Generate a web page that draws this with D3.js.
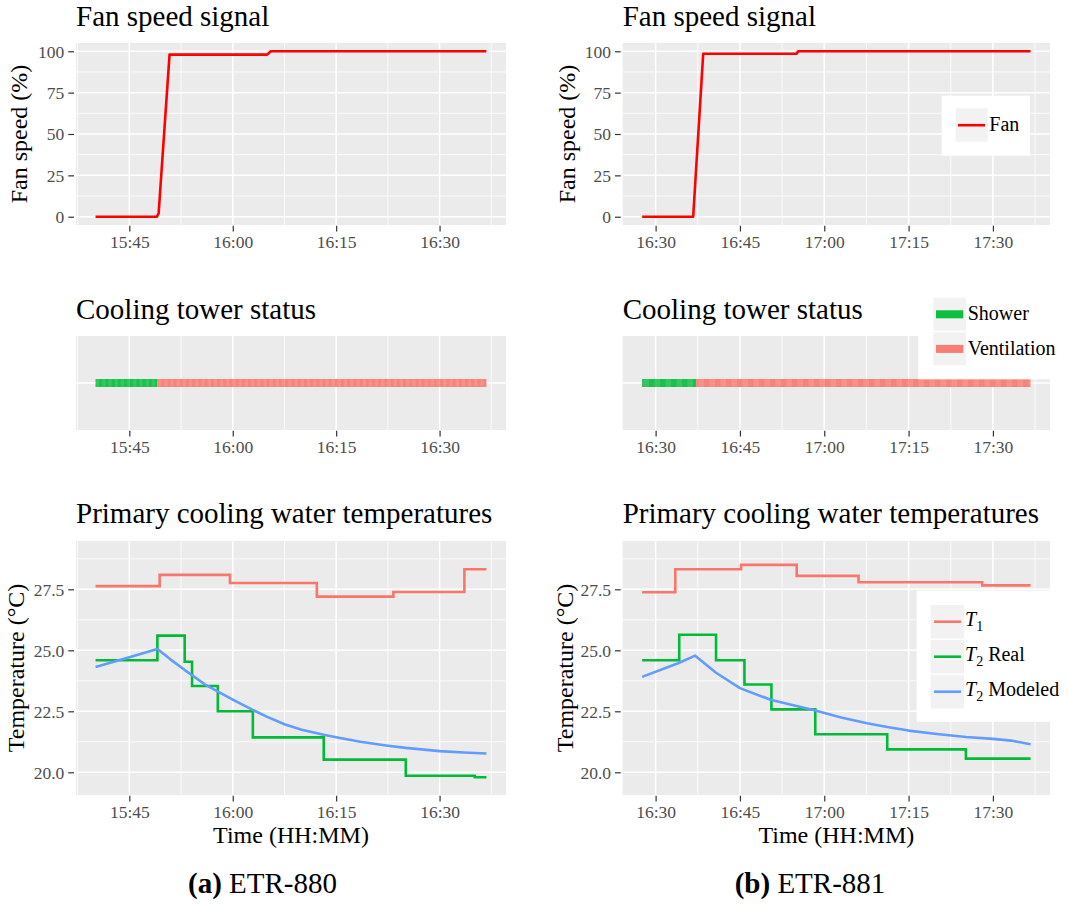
<!DOCTYPE html>
<html><head><meta charset="utf-8">
<script src="https://cdn.jsdelivr.net/npm/d3@7"></script>
<style>
body{margin:0;background:#fff}
svg{display:block}
svg text{font-family:'Liberation Serif','DejaVu Serif',serif}
</style>
</head><body>
<svg id="c" width="1068" height="904"></svg>
<script>
// ================= DATA =================
// (a) ETR-880
const fanTimesA  = ["15:40:06","15:49:00","15:49:15","15:50:50","16:05:00","16:05:30","16:36:48"];
const fanValuesA = [0, 0, 2, 98, 98, 100, 100];
const statusStartA = ["15:40:06","15:49:04"];
const statusEndA   = ["15:49:04","16:36:48"];
const statusLabelA = ["Shower","Ventilation"];
const t1TimesA  = ["15:40:06","15:49:24","15:59:36","16:12:12","16:23:18","16:33:36","16:36:48"];
const t1ValuesA = [27.63, 28.09, 27.76, 27.20, 27.39, 28.32, 28.32];
const t2RealTimesA  = ["15:40:06","15:49:04","15:53:02","15:54:06","15:57:50","16:02:55","16:13:12","16:25:06","16:35:06","16:36:48"];
const t2RealValuesA = [24.59, 25.60, 24.53, 23.54, 22.50, 21.43, 20.52, 19.86, 19.80, 19.80];
const t2ModTimesA  = ["15:40:06","15:45:00","15:49:04","15:51:00","15:53:00","15:56:12","16:00:00","16:02:54","16:05:00","16:07:30","16:10:00","16:13:12","16:15:00","16:18:30","16:22:30","16:25:06","16:30:00","16:33:30","16:36:48"];
const t2ModValuesA = [24.32, 24.72, 25.05, 24.62, 24.20, 23.56, 22.98, 22.56, 22.27, 21.97, 21.74, 21.54, 21.44, 21.25, 21.09, 21.00, 20.87, 20.81, 20.77];

// (b) ETR-881
const fanTimesB  = ["16:27:36","16:36:41","16:38:28","16:55:04","16:55:21","17:36:42"];
const fanValuesB = [0, 0, 98.5, 98.5, 100, 100];
const statusStartB = ["16:27:36","16:37:13"];
const statusEndB   = ["16:37:13","17:36:42"];
const statusLabelB = ["Shower","Ventilation"];
const t1TimesB  = ["16:27:36","16:33:30","16:45:12","16:55:06","17:06:06","17:28:06","17:36:42"];
const t1ValuesB = [27.38, 28.32, 28.50, 28.05, 27.79, 27.66, 27.66];
const t2RealTimesB  = ["16:27:36","16:34:12","16:40:45","16:45:48","16:50:36","16:58:24","17:11:12","17:25:12","17:36:42"];
const t2RealValuesB = [24.59, 25.64, 24.59, 23.60, 22.58, 21.56, 20.94, 20.56, 20.56];
const t2ModTimesB  = ["16:27:36","16:34:00","16:37:02","16:40:45","16:45:00","16:50:36","16:58:24","17:03:00","17:07:36","17:11:12","17:15:00","17:20:00","17:25:12","17:30:00","17:33:12","17:36:42"];
const t2ModValuesB = [23.91, 24.47, 24.78, 24.08, 23.45, 22.96, 22.53, 22.25, 22.01, 21.86, 21.71, 21.57, 21.45, 21.37, 21.30, 21.15];

// axes / labels
const fanTicks = [0, 25, 50, 75, 100];
const fanMinorTicks = [12.5, 37.5, 62.5, 87.5];
const fanDomain = [-5, 105];
const tempTicks = [20.0, 22.5, 25.0, 27.5];
const tempMinorTicks = [21.25, 23.75, 26.25, 28.75];
const tempDomain = [19.07, 29.48];
const titles = ["Fan speed signal", "Cooling tower status", "Primary cooling water temperatures"];
const yTitles = ["Fan speed (%)", "Temperature (°C)"];
const xTitle = "Time (HH:MM)";
const captions = [["(a)", "ETR-880"], ["(b)", "ETR-881"]];
const statusColors = {"Shower": "#00BA38", "Ventilation": "#F8766D"};
const tempColors = ["#F8766D", "#00BA38", "#619CFF"];

// ================= DRAWING =================
const svg = d3.select("#c");
const defs = svg.append("defs");
const parse = d3.timeParse("%H:%M:%S");
const fmt = d3.timeFormat("%H:%M");
const BG = "#EBEBEB";
const FONT = "'Liberation Serif','DejaVu Serif',serif";
svg.attr("font-family", FONT);
const zip = (ts, vs) => ts.map((t, i) => ({t: parse(t), v: vs[i]}));

function makeX(timeArrays, x0, x1) {
  const all = timeArrays.flat().map(parse);
  const [a, b] = d3.extent(all);
  const pad = (b - a) * 0.05;
  return d3.scaleTime().domain([new Date(+a - pad), new Date(+b + pad)]).range([x0, x1]);
}

function frame(g, xs, ys, opt) {
  const [x0, x1] = xs.range();
  const [y1, y0] = ys.range();
  g.append("rect").attr("x", x0).attr("y", y0).attr("width", x1 - x0).attr("height", y1 - y0).attr("fill", BG);
  const dom = xs.domain();
  const major = xs.ticks(d3.timeMinute.every(15));
  const minor = [];
  major.forEach(t => [-7.5, 7.5].forEach(o => {
    const m = new Date(+t + o * 60000);
    if (m >= dom[0] && m <= dom[1] && !minor.some(v => +v === +m)) minor.push(m);
  }));
  g.selectAll(null).data(minor).join("line")
    .attr("x1", d => xs(d)).attr("x2", d => xs(d)).attr("y1", y0).attr("y2", y1)
    .attr("stroke", "#fff").attr("stroke-width", 0.8);
  if (opt.yMinor) g.selectAll(null).data(opt.yMinor).join("line")
    .attr("x1", x0).attr("x2", x1).attr("y1", d => ys(d)).attr("y2", d => ys(d))
    .attr("stroke", "#fff").attr("stroke-width", 0.8);
  g.selectAll(null).data(major).join("line")
    .attr("x1", d => xs(d)).attr("x2", d => xs(d)).attr("y1", y0).attr("y2", y1)
    .attr("stroke", "#fff").attr("stroke-width", 1.5);
  g.selectAll(null).data(opt.yMajor).join("line")
    .attr("x1", x0).attr("x2", x1).attr("y1", d => ys(d)).attr("y2", d => ys(d))
    .attr("stroke", "#fff").attr("stroke-width", 1.5);

  const ax = g.append("g").attr("transform", `translate(0,${y1 + 0.7})`)
    .call(d3.axisBottom(xs).tickValues(major).tickFormat(fmt).tickSize(5.8));
  ax.attr("font-family", FONT).attr("font-size", 17.5);
  ax.select(".domain").remove();
  ax.selectAll(".tick line").attr("stroke", "#333").attr("stroke-width", 1.2);
  ax.selectAll(".tick text").attr("y", 22.8).attr("dy", null).attr("fill", "#4D4D4D");

  if (opt.yLabels) {
    const ay = g.append("g").attr("transform", `translate(${x0 - 2},0)`)
      .call(d3.axisLeft(ys).tickValues(opt.yMajor).tickFormat(opt.yFormat).tickSize(5.7).tickPadding(4));
    ay.attr("font-family", FONT).attr("font-size", 17.5);
    ay.select(".domain").remove();
    ay.selectAll(".tick line").attr("stroke", "#333").attr("stroke-width", 1.2);
    ay.selectAll(".tick text").attr("fill", "#4D4D4D").attr("dy", "0.34em");
  }
}

function title(g, x, y, txt) {
  g.append("text").attr("x", x).attr("y", y).attr("font-size", 29).attr("fill", "#000").text(txt);
}
function yTitle(g, x, yc, txt) {
  g.append("text").attr("transform", `translate(${x},${yc}) rotate(-90)`)
    .attr("text-anchor", "middle").attr("font-size", 24).attr("fill", "#000").text(txt);
}

function stripe(id, color, period) {
  const p = defs.append("pattern").attr("id", id).attr("patternUnits", "userSpaceOnUse")
    .attr("width", period).attr("height", 40);
  p.append("rect").attr("width", period).attr("height", 40).attr("fill", color).attr("fill-opacity", 0.78);
  p.append("rect").attr("width", period / 2).attr("height", 40).attr("fill", color).attr("fill-opacity", 0.5);
}

const panels = [
  {x0: 76, x1: 506, fanT: fanTimesA, fanV: fanValuesA, sS: statusStartA, sE: statusEndA, sL: statusLabelA,
   t1T: t1TimesA, t1V: t1ValuesA, rT: t2RealTimesA, rV: t2RealValuesA, mT: t2ModTimesA, mV: t2ModValuesA,
   period: 6.2, fanOff: 49.5, tempOff: 52, capX: 262.5, key: "a"},
  {x0: 622.7, x1: 1050, fanT: fanTimesB, fanV: fanValuesB, sS: statusStartB, sE: statusEndB, sL: statusLabelB,
   t1T: t1TimesB, t1V: t1ValuesB, rT: t2RealTimesB, rV: t2RealValuesB, mT: t2ModTimesB, mV: t2ModValuesB,
   period: 11, fanOff: 48, tempOff: 50, capX: 810, key: "b"}
];

panels.forEach((P, idx) => {
  const g = svg.append("g");
  const xs = makeX([P.fanT, P.sS, P.sE, P.t1T, P.rT, P.mT], P.x0, P.x1);

  // ---- fan speed ----
  const yF = d3.scaleLinear().domain(fanDomain).range([225, 43]);
  frame(g, xs, yF, {yMajor: fanTicks, yMinor: fanMinorTicks, yLabels: true, yFormat: d3.format("d")});
  g.append("path").datum(zip(P.fanT, P.fanV))
    .attr("d", d3.line().x(d => xs(d.t)).y(d => yF(d.v)))
    .attr("fill", "none").attr("stroke", "#FF0000").attr("stroke-width", 2.6).attr("stroke-linejoin", "round");
  title(g, P.x0, 26, titles[0]);
  yTitle(g, P.x0 - P.fanOff, 134, yTitles[0]);

  // ---- status ----
  const yS = d3.scaleBand().domain(["status"]).range([430, 336]);
  const ySL = d3.scaleLinear().domain([0, 1]).range([430, 336]);
  frame(g, xs, ySL, {yMajor: [0.5], yLabels: false});
  const ids = {};
  Object.keys(statusColors).forEach(k => {
    ids[k] = `st-${P.key}-${k}`;
    stripe(ids[k], statusColors[k], P.period);
  });
  const sData = P.sS.map((s, i) => ({s: parse(s), e: parse(P.sE[i]), l: P.sL[i]}));
  const yc = yS("status") + yS.bandwidth() / 2;
  g.selectAll(null).data(sData).join("rect")
    .attr("x", d => xs(d.s)).attr("width", d => xs(d.e) - xs(d.s))
    .attr("y", yc - 4).attr("height", 8)
    .attr("fill", d => `url(#${ids[d.l]})`);
  title(g, P.x0, 319.3, titles[1]);

  // ---- temperatures ----
  const yT = d3.scaleLinear().domain(tempDomain).range([795, 541]);
  frame(g, xs, yT, {yMajor: tempTicks, yMinor: tempMinorTicks, yLabels: true, yFormat: d3.format(".1f")});
  const step = d3.line().x(d => xs(d.t)).y(d => yT(d.v)).curve(d3.curveStepAfter);
  const smooth = d3.line().x(d => xs(d.t)).y(d => yT(d.v));
  g.append("path").datum(zip(P.t1T, P.t1V)).attr("d", step)
    .attr("fill", "none").attr("stroke", tempColors[0]).attr("stroke-width", 2.6);
  g.append("path").datum(zip(P.rT, P.rV)).attr("d", step)
    .attr("fill", "none").attr("stroke", tempColors[1]).attr("stroke-width", 2.6);
  g.append("path").datum(zip(P.mT, P.mV)).attr("d", smooth)
    .attr("fill", "none").attr("stroke", tempColors[2]).attr("stroke-width", 2.6).attr("stroke-linejoin", "round");
  title(g, P.x0, 523.3, titles[2]);
  yTitle(g, P.x0 - P.tempOff, 668, yTitles[1]);
  g.append("text").attr("x", (P.x0 + P.x1) / 2).attr("y", 843.3).attr("text-anchor", "middle")
    .attr("font-size", 24).attr("fill", "#000").text(xTitle);

  const cap = g.append("text").attr("x", P.capX).attr("y", 893).attr("text-anchor", "middle")
    .attr("font-size", 29).attr("fill", "#000");
  cap.append("tspan").attr("font-weight", "bold").text(captions[idx][0]);
  cap.append("tspan").text(" " + captions[idx][1]);
});

// ================= LEGENDS (panel b) =================
const L = svg.append("g");
L.append("rect").attr("x", 941.7).attr("y", 95.7).attr("width", 88.3).attr("height", 60).attr("fill", "#fff");
L.append("rect").attr("x", 955.7).attr("y", 108.3).attr("width", 32).attr("height", 33.4).attr("fill", "#F2F2F2");
L.append("line").attr("x1", 958).attr("x2", 985).attr("y1", 125.2).attr("y2", 125.2).attr("stroke", "#FF0000").attr("stroke-width", 2.6);
L.append("text").attr("x", 989.3).attr("y", 131).attr("font-size", 20).text("Fan");

L.append("rect").attr("x", 918.3).attr("y", 288).attr("width", 150).attr("height", 91.3).attr("fill", "#fff");
Object.keys(statusColors).forEach((k, i) => {
  const top = [297.7, 332.3][i];
  L.append("rect").attr("x", 933.3).attr("y", top).attr("width", 32.7).attr("height", 33).attr("fill", "#F2F2F2");
  L.append("rect").attr("x", 936).attr("y", top + 12.6).attr("width", 27.3).attr("height", 8).attr("fill", statusColors[k]).attr("fill-opacity", 0.95);
  L.append("text").attr("x", 967.7).attr("y", top + 22.4).attr("font-size", 20).text(k);
});

L.append("rect").attr("x", 916.7).attr("y", 590.7).attr("width", 151.3).attr("height", 131).attr("fill", "#fff");
const tLabels = [["1", ""], ["2", " Real"], ["2", " Modeled"]];
tLabels.forEach((lab, i) => {
  const top = [605, 640, 675][i];
  L.append("rect").attr("x", 930.7).attr("y", top).attr("width", 33.3).attr("height", 33.5).attr("fill", "#F2F2F2");
  L.append("line").attr("x1", 934).attr("x2", 961).attr("y1", top + 16.7).attr("y2", top + 16.7)
    .attr("stroke", tempColors[i]).attr("stroke-width", 2.6);
  const t = L.append("text").attr("x", 965).attr("y", top + 21.3).attr("font-size", 20);
  t.append("tspan").attr("font-style", "italic").text("T");
  t.append("tspan").attr("font-size", 14).attr("dy", 4.5).text(lab[0]);
  if (lab[1]) t.append("tspan").attr("dy", -4.5).text(lab[1]);
});
</script>
</body></html>
